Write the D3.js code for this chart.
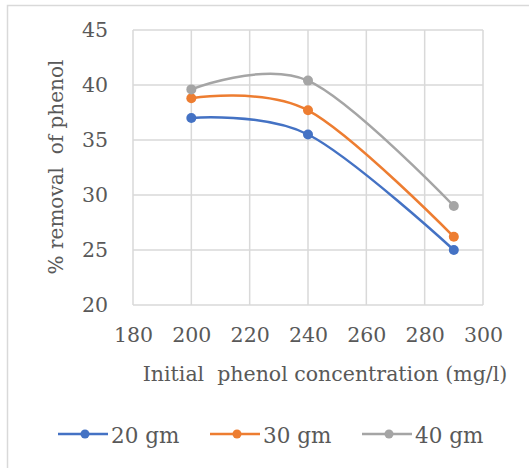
<!DOCTYPE html>
<html>
<head>
<meta charset="utf-8">
<script src="https://cdn.jsdelivr.net/npm/d3@7"></script>
<style>
  html, body { margin: 0; padding: 0; background: #fff; }
  svg { display: block; }
  svg text { font-family: "DejaVu Serif", serif; fill: #595959; white-space: pre; }
</style>
</head>
<body>
<svg id="chart" width="529" height="468"></svg>
<script>
// Initial phenol concentration (mg/l)
const concentrations = [200, 240, 290];
// % removal of phenol for each adsorbent dose
const removal20 = [37.0, 35.5, 25.0];
const removal30 = [38.8, 37.7, 26.2];
const removal40 = [39.6, 40.4, 29.0];
const seriesNames = ["20 gm", "30 gm", "40 gm"];
const seriesColors = ["#4472C4", "#ED7D31", "#A5A5A5"];
const xTicks = [180, 200, 220, 240, 260, 280, 300];
const yTicks = [20, 25, 30, 35, 40, 45];

const series = [removal20, removal30, removal40].map((vals, i) => ({
  name: seriesNames[i],
  color: seriesColors[i],
  points: concentrations.map((c, j) => ({ x: c, y: vals[j] }))
}));

const svg = d3.select("#chart");
const plot = { left: 133, right: 483, top: 30, bottom: 305 };

const x = d3.scaleLinear().domain([180, 300]).range([plot.left, plot.right]);
const y = d3.scaleLinear().domain([20, 45]).range([plot.bottom, plot.top]);

// outer chart frame
svg.append("rect")
  .attr("x", 7.5).attr("y", 5.5).attr("width", 540).attr("height", 480)
  .attr("fill", "none").attr("stroke", "#d9d9d9").attr("stroke-width", 1.5);

// gridlines
const grid = svg.append("g").attr("stroke", "#d9d9d9").attr("stroke-width", 1.5);
grid.selectAll("line.v").data(xTicks).join("line")
  .attr("x1", d => x(d)).attr("x2", d => x(d))
  .attr("y1", plot.top).attr("y2", plot.bottom);
grid.selectAll("line.h").data(yTicks).join("line")
  .attr("x1", plot.left).attr("x2", plot.right)
  .attr("y1", d => y(d)).attr("y2", d => y(d));

// axes (labels only; lines come from the grid)
const xAxis = svg.append("g")
  .attr("transform", `translate(0,${plot.bottom})`)
  .call(d3.axisBottom(x).tickValues(xTicks).tickSize(0).tickPadding(22));
const yAxis = svg.append("g")
  .attr("transform", `translate(${plot.left},0)`)
  .call(d3.axisLeft(y).tickValues(yTicks).tickSize(0).tickPadding(25));
[xAxis, yAxis].forEach(a => {
  a.attr("font-family", null).attr("font-size", null);
  a.select(".domain").remove();
  a.selectAll("text").attr("font-size", 20.5).attr("fill", "#595959");
});

// axis titles
svg.append("text")
  .attr("x", 325).attr("y", 381)
  .attr("text-anchor", "middle").attr("font-size", 20.5)
  .text("Initial  phenol concentration (mg/l)");
svg.append("text")
  .attr("transform", "translate(63,167) rotate(-90)")
  .attr("text-anchor", "middle").attr("font-size", 20)
  .text("% removal  of phenol");

// smoothed series lines and markers
const line = d3.line()
  .x(d => x(d.x)).y(d => y(d.y))
  .curve(d3.curveCatmullRom.alpha(0));

const g = svg.append("g");
series.forEach(s => {
  g.append("path").datum(s.points)
    .attr("d", line)
    .attr("fill", "none").attr("stroke", s.color).attr("stroke-width", 2.5);
  g.selectAll(null).data(s.points).join("circle")
    .attr("cx", d => x(d.x)).attr("cy", d => y(d.y)).attr("r", 5)
    .attr("fill", s.color);
});

// legend
const legendX = [58, 210, 362];
const legend = svg.append("g");
series.forEach((s, i) => {
  const lg = legend.append("g").attr("transform", `translate(${legendX[i]},434)`);
  lg.append("line").attr("x1", 0).attr("x2", 50).attr("y1", 0).attr("y2", 0)
    .attr("stroke", s.color).attr("stroke-width", 2.5);
  lg.append("circle").attr("cx", 27).attr("cy", 0).attr("r", 4.5).attr("fill", s.color);
  lg.append("text").attr("x", 53).attr("y", 9).attr("font-size", 21.5).text(s.name);
});
</script>
</body>
</html>
